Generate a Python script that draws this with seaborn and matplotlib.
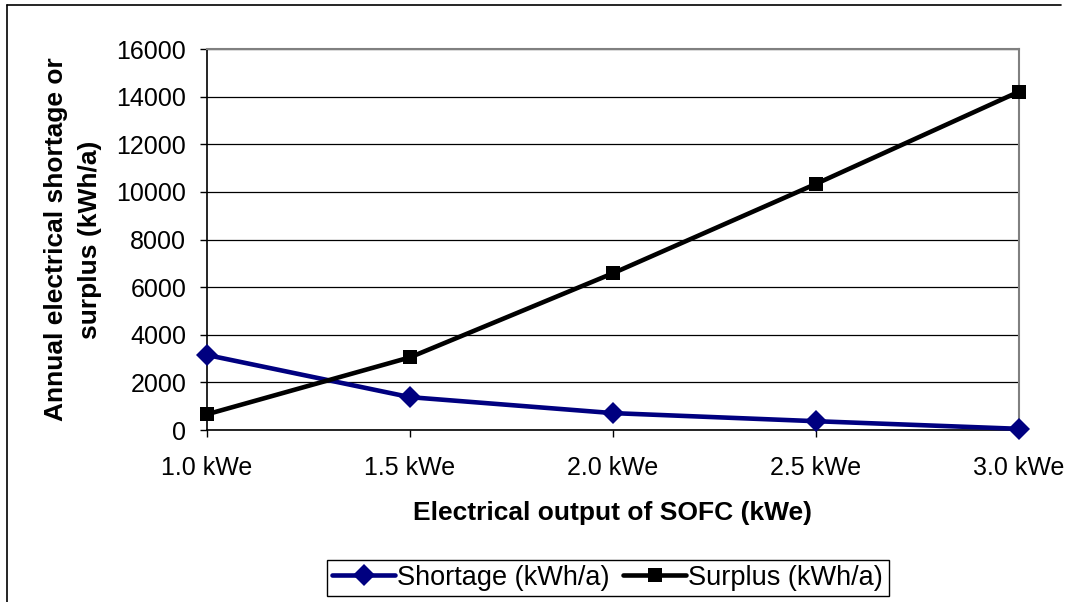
import pandas as pd
import numpy as np
import matplotlib
matplotlib.use("Agg")
import matplotlib.pyplot as plt
import seaborn as sns
from matplotlib.lines import Line2D

output_kwe = [1.0, 1.5, 2.0, 2.5, 3.0]
tick_labels = ["1.0 kWe", "1.5 kWe", "2.0 kWe", "2.5 kWe", "3.0 kWe"]
shortage = [3150, 1380, 710, 370, 50]
surplus = [660, 3050, 6580, 10330, 14200]

sns.set_style("white", {"text.color": "black", "axes.labelcolor": "black",
                        "xtick.color": "black", "ytick.color": "black"})
plt.rcParams['font.family'] = ['Liberation Sans', 'DejaVu Sans']

fig = plt.figure(figsize=(10.7, 6.02), dpi=100)
ax = fig.add_axes([0.1935, 0.2857, 0.7584, 0.6329])

sns.lineplot(x=output_kwe, y=shortage, ax=ax, color="#000080", linewidth=3.3,
             marker="D", markersize=11, markeredgewidth=0, clip_on=False,
             label="Shortage (kWh/a)", zorder=3)
sns.lineplot(x=output_kwe, y=surplus, ax=ax, color="black", linewidth=3.3,
             marker="s", markersize=10, markeredgewidth=0, clip_on=False,
             label="Surplus (kWh/a)", zorder=4)

ax.set_xlim(1.0, 3.0)
ax.set_ylim(0, 16000)
ax.set_yticks(np.arange(0, 16001, 2000))
ax.set_xticks(output_kwe)
ax.set_xticklabels(tick_labels)
ax.tick_params(axis="both", labelsize=18, direction="out", length=5, width=1,
               color="black", labelcolor="black", left=True, bottom=True)
ax.tick_params(axis="y", pad=10)
ax.tick_params(axis="x", pad=14)
ax.yaxis.grid(True, color="black", linewidth=0.9)
ax.set_axisbelow(True)
for s in ["top", "right"]:
    ax.spines[s].set_color("#808080")
    ax.spines[s].set_linewidth(1.5)
for s in ["left", "bottom"]:
    ax.spines[s].set_color("black")
    ax.spines[s].set_linewidth(1.2)

ax.set_xlabel("Electrical output of SOFC (kWe)", fontsize=19, fontweight="bold",
              labelpad=15, color="black")
ax.set_ylabel("Annual electrical shortage or\nsurplus (kWh/a)", fontsize=19,
              fontweight="bold", labelpad=10, linespacing=1.55, color="black")

ax.legend(loc="center", bbox_to_anchor=(0.568, 0.04), bbox_transform=fig.transFigure,
          ncol=2, fontsize=19.5, frameon=True, fancybox=False, edgecolor="black",
          handlelength=2.3, handletextpad=0.1, columnspacing=0.5, borderpad=0.2,
          borderaxespad=0, framealpha=1, labelcolor="black")
leg = ax.get_legend()
leg.get_frame().set_linewidth(1.0)

fig.add_artist(Line2D([0.0065, 0.0065], [0, 0.992], color="black", linewidth=1.2,
                      transform=fig.transFigure))
fig.add_artist(Line2D([0.0065, 0.992], [0.992, 0.992], color="black", linewidth=1.2,
                      transform=fig.transFigure))

fig.savefig("out.png", dpi=100, facecolor="white")
